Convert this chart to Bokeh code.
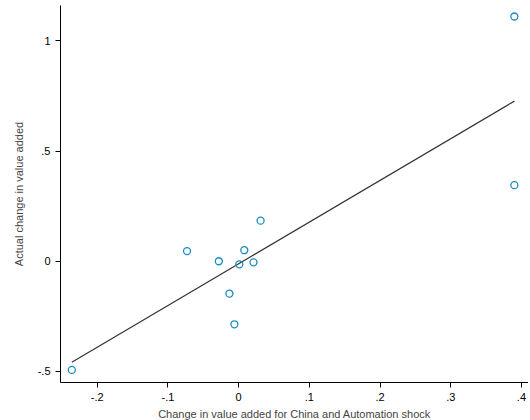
import numpy as np
from bokeh.plotting import figure
from bokeh.models import FixedTicker, Range1d
from bokeh.embed import file_html
from bokeh.resources import INLINE

# predicted change (China + Automation shock) vs actual change in value added
predicted = [0.390, 0.390, 0.031, 0.008, 0.021, 0.001, -0.028, -0.073, -0.013, -0.006, -0.236]
actual = [1.11, 0.345, 0.184, 0.050, -0.005, -0.014, 0.000, 0.046, -0.147, -0.286, -0.493]

x_ticks = [-0.2, -0.1, 0, 0.1, 0.2, 0.3, 0.4]
x_labels = {-0.2: "-.2", -0.1: "-.1", 0: "0", 0.1: ".1", 0.2: ".2", 0.3: ".3", 0.4: ".4"}
y_ticks = [-0.5, 0, 0.5, 1]
y_labels = {-0.5: "-.5", 0: "0", 0.5: ".5", 1: "1"}

p = figure(width=528, height=422, output_backend="svg", toolbar_location=None,
           x_range=Range1d(-0.252, 0.41), y_range=Range1d(-0.55, 1.16),
           min_border_left=60, min_border_bottom=37, min_border_top=5, min_border_right=0)
p.outline_line_color = None
p.grid.grid_line_color = None

slope, intercept = np.polyfit(predicted, actual, 1)
xs = np.array([min(predicted), max(predicted)])
p.line(xs, slope * xs + intercept, line_color="#333333", line_width=1.2)
p.scatter(predicted, actual, size=7, fill_color=None, line_color="#1a8cc0", line_width=1.3)

for ax in (p.xaxis, p.yaxis):
    ax.major_label_text_font = "Liberation Sans"
    ax.major_label_text_font_size = "11px"
    ax.major_label_text_color = "black"
    ax.axis_label_text_font = "Liberation Sans"
    ax.axis_label_text_font_size = "11px"
    ax.axis_label_text_font_style = "normal"
    ax.minor_tick_line_color = None
    ax.axis_line_color = "black"
    ax.major_tick_line_color = "black"
    ax.major_tick_out = 5
    ax.major_tick_in = 0

p.xaxis.ticker = FixedTicker(ticks=x_ticks)
p.xaxis.major_label_overrides = x_labels
p.yaxis.ticker = FixedTicker(ticks=y_ticks)
p.yaxis.major_label_overrides = y_labels
p.yaxis.major_label_orientation = "horizontal"
p.xaxis.axis_label = "Change in value added for China and Automation shock"
p.yaxis.axis_label = "Actual change in value added"
p.xaxis.axis_label_standoff = 4
p.yaxis.axis_label_standoff = 10

open("out.html", "w").write(file_html(p, INLINE))
